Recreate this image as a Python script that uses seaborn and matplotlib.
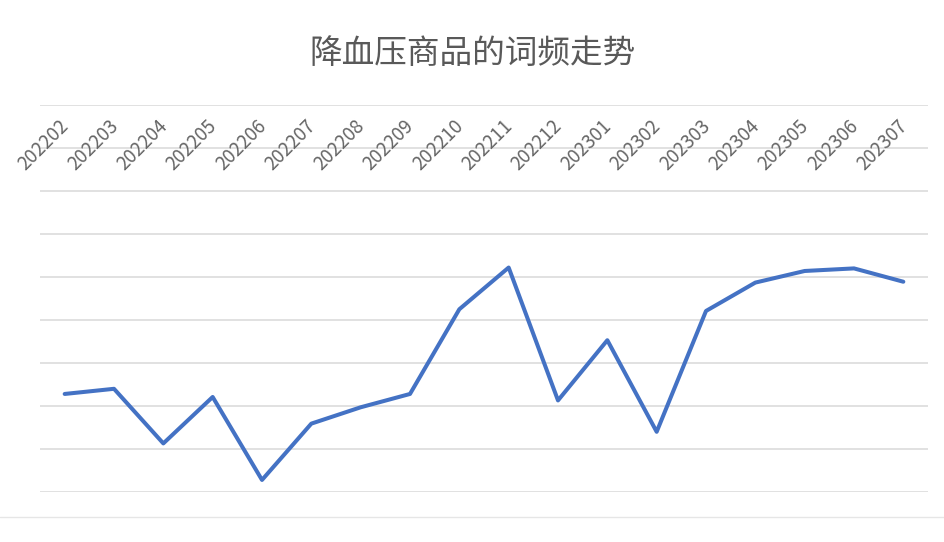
import matplotlib
matplotlib.use("Agg")
import matplotlib.pyplot as plt
import matplotlib.transforms as mtransforms
from matplotlib.lines import Line2D
import seaborn as sns

# 月份与词频（按图读取，单位为网格格数）
months = ["202202", "202203", "202204", "202205", "202206", "202207",
          "202208", "202209", "202210", "202211", "202212", "202301",
          "202302", "202303", "202304", "202305", "202306", "202307"]
freq = [2.28, 2.40, 1.13, 2.21, 0.28, 1.59, 1.97, 2.28, 4.25,
        5.22, 2.13, 3.53, 1.40, 4.21, 4.87, 5.14, 5.20, 4.89]
grid_levels = list(range(10))

sns.set_theme(style="white")
plt.rcParams['font.family'] = ['Noto Sans CJK SC', 'DejaVu Sans']

fig = plt.figure(figsize=(9.45, 5.42), dpi=100)
ax = fig.add_axes([40 / 945, 1 - 492 / 542, 888 / 945, 387 / 542])

# horizontal gridlines
for g in grid_levels:
    ax.axhline(g, color="#d9d9d9", lw=1.1, zorder=0)

sns.lineplot(x=months, y=freq, ax=ax, color="#4472c4", lw=2.9, sort=False)

ax.set_xlim(-0.5, len(months) - 0.5)
ax.set_ylim(0, 9)
for s in ax.spines.values():
    s.set_visible(False)
ax.set_yticks([])
ax.set_xlabel("")
ax.set_ylabel("")

# category labels sit just under the top gridline
ax.tick_params(axis="x", bottom=False, labelbottom=False, top=False,
               labeltop=True, length=0, pad=-13, labelsize=13.5,
               labelcolor="#666666")
ax.set_xticks(range(len(months)))
ax.set_xticklabels(months, rotation=45, ha="right", va="center",
                   rotation_mode="anchor")
offset = mtransforms.ScaledTranslation(1 / 100, 0, fig.dpi_scale_trans)
for lab in ax.get_xticklabels():
    lab.set_transform(lab.get_transform() + offset)

fig.text(0.5, 1 - 54 / 542, "降血压商品的词频走势", ha="center", va="center",
         fontsize=23.5, color="#595959")

# chart frame bottom line
fig.add_artist(Line2D([0, 1], [1 - 517 / 542] * 2, color="#e6e6e6",
                      lw=1.0, transform=fig.transFigure))

fig.savefig("out.png", dpi=100)
